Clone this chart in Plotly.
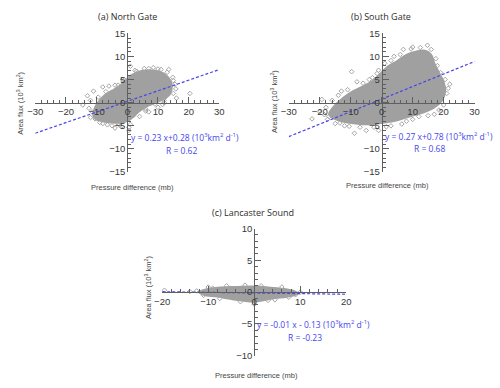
import plotly.graph_objects as go

# ---- data ----

# (a) North Gate: outline of the dense cloud, loose points, fitted line
north_core_x = [-11, -10.5, -9, -7, -5, -3, -1, 1, 3, 5, 8, 10.5, 12.5, 14, 14.5, 14, 12.5, 10, 7, 4,
                2, 0, -2, -5, -8, -10]
north_core_y = [-3, -1, 0.5, 1.8, 2.6, 3.4, 4.5, 5.8, 6.5, 6.9, 7, 6.7, 6, 4.8, 3.5, 2, 1, 0.2, -0.6, -1.8,
                -3, -4, -4.3, -4.3, -4, -3.7]
north_pts_x = [-13, -12, -14.5, -11, -8, -6, -10.5, -11.5, -8, -5, -2, 0.5, 1, 4, 7, 10, 12, 15,
               15.5, 15, 13.5, 10, 7, 3, 1, -1, -3, 20.4, 16, -4, -12.5, -9.5, -7, -4, -1.5, 2.5,
               5.5, 8.5, 11, 13, 14.8, 15.8, 12, 9, 6, 2, -2.5, -6.5, -9, -12, 0.5, -3, 6, 11.5]
north_pts_y = [1.5, 0.5, -0.5, 2.5, 3.4, 3.6, -3.5, -2, -4.5, -5, -5.2, -5.4, -4.7, -3, -2, -1, 0, 2,
               4, 4.8, 7.2, 7.3, 7.4, 6.8, 7.9, 5, 3.8, 2, 1, -5.5, -1.2, 1.2, 2.4, 3.8, 5, 7,
               7.4, 7.6, 7.2, 6.6, 5.5, 3, 0.5, -0.3, -1.4, -2.8, -4.8, -4.8, -4.3, -3.2, -6, -4.6, -1.8, -0.4]
north_fit_x = [-30, 30]
north_fit_y = [-6.62, 7.18]

# (b) South Gate
south_core_x = [-17, -15, -12.5, -10, -7, -4, -2, 0, 2, 5, 8, 11, 14, 16, 17, 18.5, 20, 20.5, 19.5, 17,
                13, 9, 5, 1, -3, -7, -11, -14, -16]
south_core_y = [-2.5, -0.5, 1, 2.2, 3.2, 4.2, 5.2, 6.5, 7.8, 9, 10.3, 11, 11.2, 10.3, 8.5, 6.5, 4.5, 2.5, 0.5, -1,
                -2.2, -3, -3.8, -4.3, -4.6, -4.6, -4.3, -3.8, -3.2]
south_pts_x = [-22.5, -19.3, -18, -17, -16, -13, -9.7, -8, -4, -1, 1, 4, 7, 10, 14.8, 16, 18, 20.5,
               22, 21, 20, 17, 12, 8, 3, -1, -5, -8.8, -12, -15, -20, -18.5, -14, -11, -6, -3,
               -1.5, 3, 6, 9.5, 12.5, 17.5, 19, 21.5, 18.5, 15, 10, 6.5, 1.5, -2.5, -7, -10.5, -13.5, -17.5]
south_pts_y = [-3.5, 0.7, -1, -3, 0.5, 2.5, 6.7, 4.5, 5, 7, 8.5, 10, 11.5, 12, 12.4, 11.5, 8, 5,
               4, 2, -0.5, -2.5, -3, -4, -5, -6, -6, -6.6, -5, -4.5, -2, -2.6, 1.6, 2.8, 4.2, 5.4,
               6.3, 9.1, 10.4, 11.6, 11.9, 9.5, 6.5, 3.1, -1.6, -2.8, -3.6, -4.6, -5.2, -5.3, -5.3, -5.1, -4.4, -3.6]
south_fit_x = [-30, 30]
south_fit_y = [-7.32, 8.88]

# (c) Lancaster Sound
lanc_core_x = [-12, -10, -5, 0, 5, 8, 9.5, 8, 4, 0, -4, -8, -11]
lanc_core_y = [0, 0.5, 0.8, 0.9, 0.6, 0.3, -0.2, -0.6, -1.0, -1.5, -1.2, -0.7, -0.4]
lanc_pts_x = [-12.5, -11, -9, -6, -3, 0, 3, 6, 9, 10, -19.5, -14, -7.5, -2, 1.5, 4.5, 7.5, -10]
lanc_pts_y = [0.2, -0.5, 0.6, 1.0, -1.5, -1.9, -1.3, 0.8, -0.4, 0, 0.3, 0.1, -1.0, 1.1, 1.0, -1.2, -0.8, 0.8]
lanc_fit_x = [-20, 20]
lanc_fit_y = [0.07, -0.33]

titles = ["(a) North Gate", "(b) South Gate", "(c) Lancaster Sound"]
equations = ["y = 0.23 x+0.28 (10<sup>3</sup>km<sup>2</sup> d<sup>-1</sup>)",
             "y = 0.27 x+0.78 (10<sup>3</sup>km<sup>2</sup> d<sup>-1</sup>)",
             "y = -0.01 x - 0.13 (10<sup>3</sup>km<sup>2</sup> d<sup>-1</sup>)"]
r_values = ["R = 0.62", "R = 0.68", "R = -0.23"]

W, H = 500, 388
CLOUD = "rgb(160,160,160)"
PT = "rgb(165,165,165)"
BLUE = "rgb(70,70,235)"
AXC = "rgb(95,95,95)"


def px(x):
    return x / W


def py(y):
    return (H - y) / H


fig = go.Figure()

panels = [
    (north_core_x, north_core_y, north_pts_x, north_pts_y, north_fit_x, north_fit_y, "x", "y"),
    (south_core_x, south_core_y, south_pts_x, south_pts_y, south_fit_x, south_fit_y, "x2", "y2"),
    (lanc_core_x, lanc_core_y, lanc_pts_x, lanc_pts_y, lanc_fit_x, lanc_fit_y, "x3", "y3"),
]

for cx, cy, sx, sy, fx, fy, xa, ya in panels:
    fig.add_trace(go.Scatter(x=cx + cx[:1], y=cy + cy[:1], mode="lines", fill="toself",
                             fillcolor=CLOUD, line=dict(color=CLOUD, width=2, shape="spline"),
                             xaxis=xa, yaxis=ya, hoverinfo="skip"))
    fig.add_trace(go.Scatter(x=sx, y=sy, mode="markers",
                             marker=dict(symbol="diamond-open", size=3.5, color=PT, line=dict(width=1)),
                             xaxis=xa, yaxis=ya))
    fig.add_trace(go.Scatter(x=fx, y=fy, mode="lines",
                             line=dict(color=BLUE, width=1.2, dash="3px,2px"),
                             xaxis=xa, yaxis=ya))

# pixel extents of each panel's axes (left, right, top, bottom)
boxes = [(28, 217, 28.3, 170.7), (288.3, 479, 28, 171), (158.3, 347.3, 229, 360)]
xranges = [[-30, 30], [-30, 30], [-20, 20]]
yranges = [[-15, 15], [-15, 15], [-10, 10]]

tickfont = dict(family="Liberation Sans, Arial", size=9.5, color="rgb(55,55,55)")
for i, (l, r, t, b) in enumerate(boxes):
    sfx = "" if i == 0 else str(i + 1)
    xd = [px(l), px(r)]
    yd = [py(b), py(t)]
    fig.layout["xaxis" + sfx] = dict(
        domain=xd, range=xranges[i], anchor="free", position=(yd[0] + yd[1]) / 2,
        showgrid=False, zeroline=False, showline=True, linecolor=AXC, linewidth=1,
        ticks="inside", ticklen=6, tickcolor=AXC, dtick=10, tickfont=tickfont,
        minor=dict(ticks="inside", ticklen=3, dtick=2, tickcolor=AXC, showgrid=False))
    fig.layout["yaxis" + sfx] = dict(
        domain=yd, range=yranges[i], anchor="free", position=(xd[0] + xd[1]) / 2,
        showgrid=False, zeroline=False, showline=True, linecolor=AXC, linewidth=1,
        ticks="inside", ticklen=6, tickcolor=AXC, dtick=5, tickfont=tickfont,
        minor=dict(ticks="inside", ticklen=3, dtick=1, tickcolor=AXC, showgrid=False))

ann = []
txt = dict(family="Open Sans, Noto Sans", size=9, color="rgb(45,45,45)")
small = dict(family="Liberation Sans, Arial", size=7.5, color="rgb(70,70,70)")
eqf = dict(family="Open Sans, Noto Sans", size=8.5, color=BLUE)

title_pos = [(123, 11), (383, 11), (252, 213)]
xt_pos = [(128, 186.5), (389.5, 185), (255, 380)]
yt_pos = [(12, 100), (273, 98), (143, 290)]
eq_pos = [(182, 135), (442, 134), (314, 327)]
r_pos = [(178, 148.5), (433, 147), (305, 341)]

for i in range(3):
    ann.append(dict(x=px(title_pos[i][0]), y=py(title_pos[i][1]), text=titles[i], font=txt))
    ann.append(dict(x=px(xt_pos[i][0]), y=py(xt_pos[i][1]), text="Pressure difference (mb)", font=small))
    ann.append(dict(x=px(yt_pos[i][0]), y=py(yt_pos[i][1]), textangle=-90,
                    text="Area flux (10<sup>3</sup> km<sup>2</sup>)", font=small))
    ann.append(dict(x=px(eq_pos[i][0]), y=py(eq_pos[i][1]), text=equations[i], font=eqf))
    ann.append(dict(x=px(r_pos[i][0]), y=py(r_pos[i][1]), text=r_values[i], font=eqf))

for a in ann:
    a.update(xref="paper", yref="paper", showarrow=False, xanchor="center", yanchor="middle")

fig.update_layout(
    width=W, height=H,
    margin=dict(l=0, r=0, t=0, b=0),
    paper_bgcolor="white", plot_bgcolor="white",
    showlegend=False,
    hovermode=False,
    annotations=ann,
)

# drop the page's default body margin so the figure sits at the window's corner
fig.write_html("out.html", config={"displayModeBar": False},
               post_script="document.body.style.margin='0';")
